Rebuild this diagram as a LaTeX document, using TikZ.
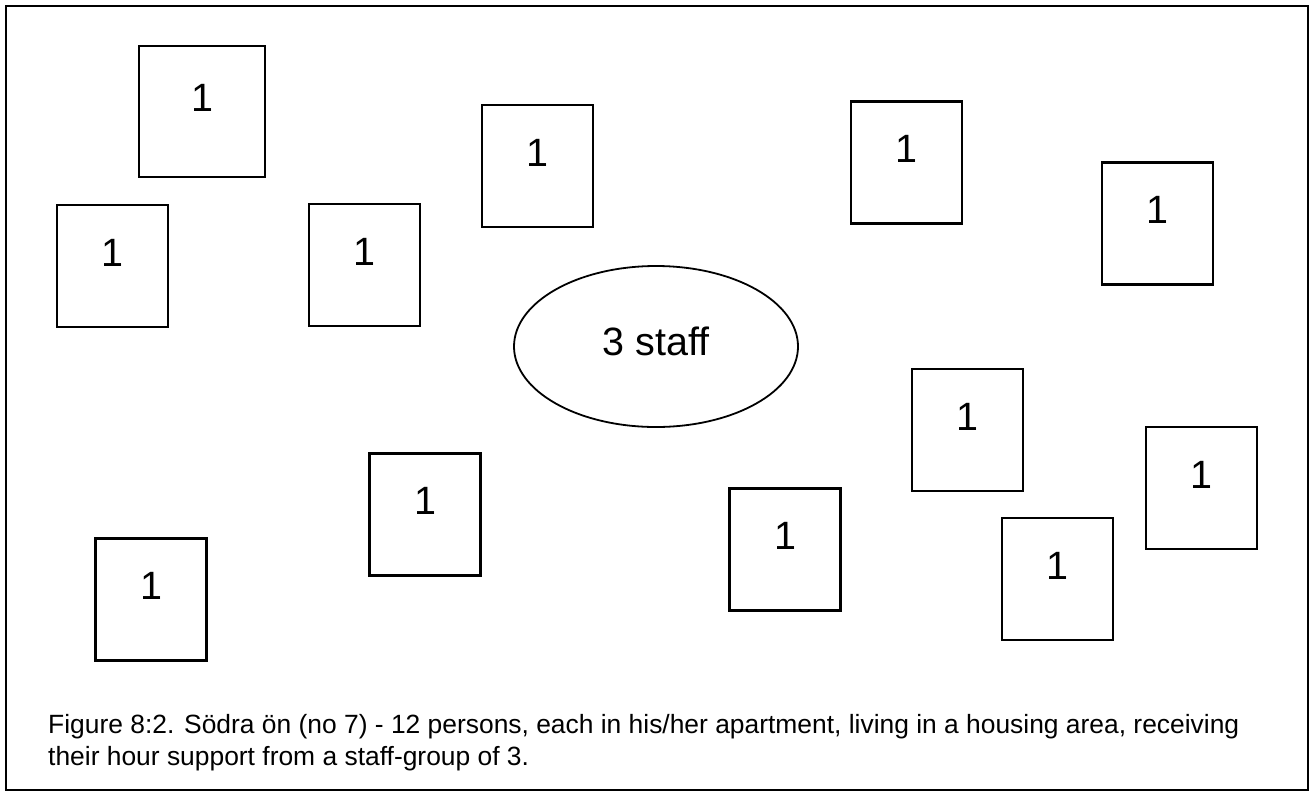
\documentclass[tikz,border=0pt]{standalone}
\usepackage{fontspec}
\setmainfont{Liberation Sans}
\usetikzlibrary{shapes.geometric}

\begin{document}
\begin{tikzpicture}[x=1pt,y=-1pt,line join=miter,
    flatbox/.style={draw,line width=2.3pt,minimum width=111pt,minimum height=122pt,
      inner sep=0pt,font=\fontsize{39.5}{44}\selectfont,text height=10pt,text depth=10pt},
    staffring/.style={draw,ellipse,line width=1.8pt,minimum width=284pt,minimum height=161pt,
      inner sep=0pt,font=\fontsize{39.5}{44}\selectfont,text depth=11pt},
    captext/.style={anchor=base west,inner sep=0pt,font=\fontsize{26.4}{32}\selectfont}]
  \useasboundingbox (0,0) rectangle (1314,796);
  \draw[line width=2pt] (6,6) rectangle (1308,790);
  % apartments
  \node[flatbox,minimum width=126pt,minimum height=131pt] (a1) at (202,111.5) {1};
  \node[flatbox] (a2) at (112.5,266) {1};
  \node[flatbox] (a3) at (364.5,265) {1};
  \node[flatbox] (a4) at (537.5,166) {1};
  \node[flatbox] (a5) at (906.5,162.5) {1};
  \node[flatbox] (a6) at (1157.5,223.5) {1};
  \node[flatbox] (a7) at (967.5,430) {1};
  \node[flatbox] (a8) at (1201.5,488) {1};
  \node[flatbox] (a9) at (425,514.5) {1};
  \node[flatbox] (a10) at (785,549.5) {1};
  \node[flatbox] (a11) at (1057.5,579) {1};
  \node[flatbox] (a12) at (151,599.5) {1};
  % staff group
  \node[staffring] (staff) at (656,346.5) {3 staff};
  % caption
  \node[captext] (cap1) at (48,733) {Figure 8:2. Södra ön (no 7) - 12 persons, each in his/her apartment, living in a housing area, receiving};
  \node[captext] (cap2) at (48,765) {their hour support from a staff-group of 3.};
\end{tikzpicture}
\end{document}
